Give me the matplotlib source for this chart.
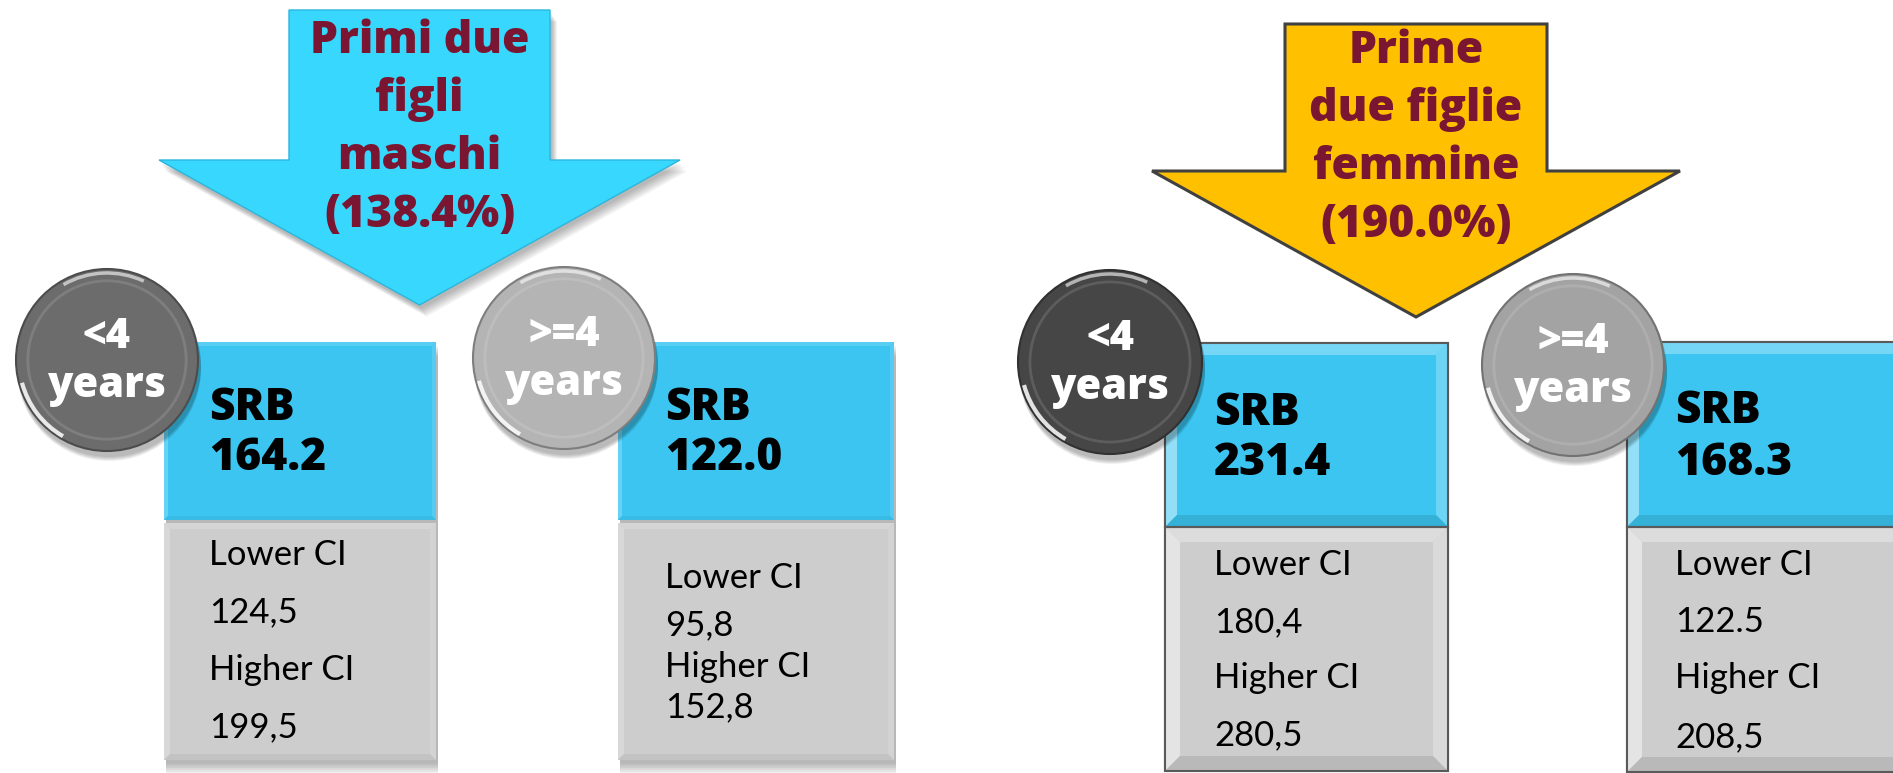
import numpy as np
import matplotlib.pyplot as plt
from matplotlib.patches import Polygon, Rectangle, Circle, Arc
from matplotlib.colors import to_rgb

# contents of the infographic
group_titles = [["Primi due", "figli", "maschi"], ["Prime", "due figlie", "femmine"]]
group_pct = ["138.4%", "190.0%"]
age_labels = ["<4", ">=4", "<4", ">=4"]
srb_values = ["164.2", "122.0", "231.4", "168.3"]
lower_ci = ["124,5", "95,8", "180,4", "122.5"]
higher_ci = ["199,5", "152,8", "280,5", "208,5"]

# layout (pixel coordinates, y downwards)
W, H = 1893, 773
arrows = [
    dict(l=289, r=550, top=10, wy=160, wl=159, wr=680, tip=305,
         face='#38D8FE', edge='#2AB6DC', lw=1.0, base=53, shadow=True),
    dict(l=1285, r=1547, top=24, wy=171, wl=1152, wr=1680, tip=317,
         face='#FFC000', edge='#404040', lw=2.2, base=63, shadow=False),
]
box_x = [(164, 436), (618, 894), (1165, 1448), (1627, 1910)]
box_y = [(342, 521, 760), (342, 521, 760), (343, 527, 771), (342, 527, 772)]
text_x = [209, 665, 1214, 1675]
srb_base = [(420, 470), (420, 470), (425, 475), (423, 475)]
ci_base = [(565, 622, 680, 737), (588, 635, 677, 717),
           (575, 632, 688, 745), (575, 632, 688, 747)]
circles = [(107, 360, 91, '#6c6c6c'), (564, 358, 91, '#b4b4b4'),
           (1110, 362, 92, '#464646'), (1573, 365, 91, '#a3a3a3')]
outlined = [False, False, True, True]

BLUE = '#3BC5F0'
GREY = '#CDCDCD'
MAROON = '#7A1631'
BOLD = 'Open Sans'
REG = 'Lato'
HEAVY = 800


def mix(color, f):
    c = np.array(to_rgb(color))
    if f >= 0:
        return tuple(c + (1 - c) * f)
    return tuple(c * (1 + f))


def bevel_box(ax, x0, x1, y0, y1, color, inset, outline, z, soft=False):
    ax.add_patch(Rectangle((x0, y0), x1 - x0, y1 - y0, fc=color,
                           ec=outline if outline else 'none', lw=1.5, zorder=z))
    i = inset
    k = 0.5 if soft else 1.0
    faces = [
        ([(x0, y0), (x1, y0), (x1 - i, y0 + i), (x0 + i, y0 + i)], mix(color, 0.3 * k)),
        ([(x0, y0), (x0 + i, y0 + i), (x0 + i, y1 - i), (x0, y1)], mix(color, 0.45 * k)),
        ([(x1, y0), (x1, y1), (x1 - i, y1 - i), (x1 - i, y0 + i)], mix(color, 0.25 * k)),
        ([(x0, y1), (x0 + i, y1 - i), (x1 - i, y1 - i), (x1, y1)], mix(color, -0.1 * k)),
    ]
    for pts, fc in faces:
        ax.add_patch(Polygon(pts, closed=True, fc=fc, ec='none', zorder=z + 0.1))
    if outline:
        ax.add_patch(Rectangle((x0, y0), x1 - x0, y1 - y0, fc='none',
                               ec=outline, lw=1.5, zorder=z + 0.2))


fig = plt.figure(figsize=(W / 100, H / 100), dpi=100)
ax = fig.add_axes([0, 0, 1, 1])
ax.set_xlim(0, W)
ax.set_ylim(H, 0)
ax.axis('off')

# arrows with their titles
for g, a in enumerate(arrows):
    cx = (a['l'] + a['r']) / 2
    pts = [(a['l'], a['top']), (a['r'], a['top']), (a['r'], a['wy']), (a['wr'], a['wy']),
           (cx, a['tip']), (a['wl'], a['wy']), (a['l'], a['wy'])]
    if a['shadow']:
        for k in range(6):
            sh = [(x + 2 + k, y + 4 + k * 1.5) for x, y in pts]
            ax.add_patch(Polygon(sh, closed=True, fc='k', ec='none', alpha=0.05, zorder=1))
    ax.add_patch(Polygon(pts, closed=True, fc=a['face'], ec=a['edge'], lw=a['lw'],
                         joinstyle='miter', zorder=2))
    lines = group_titles[g] + ['(' + group_pct[g] + ')']
    for k, line in enumerate(lines):
        ax.text(cx, a['base'] + k * 58, line, ha='center', va='baseline',
                fontsize=32, fontweight=HEAVY, family=BOLD, color=MAROON, zorder=3)

# boxes
for b in range(4):
    x0, x1 = box_x[b]
    top, mid, bot = box_y[b]
    if outlined[b]:
        bevel_box(ax, x0, x1, top, mid, BLUE, 12, '#5a5a5a', 4)
        bevel_box(ax, x0, x1, mid, bot, GREY, 15, '#5a5a5a', 4)
    else:
        for k in range(6):
            ax.add_patch(Rectangle((x0 + 2, top + 4 + k * 2), x1 - x0, bot - top,
                                   fc='k', ec='none', alpha=0.05, zorder=3))
        bevel_box(ax, x0, x1, top, mid - 1, BLUE, 4, None, 4, soft=True)
        bevel_box(ax, x0, x1, mid + 2, bot, GREY, 6, None, 4, soft=True)

    tx = text_x[b]
    ax.text(tx, srb_base[b][0], "SRB", ha='left', va='baseline', fontsize=32,
            fontweight=HEAVY, family=BOLD, color='black', zorder=6)
    ax.text(tx, srb_base[b][1], srb_values[b], ha='left', va='baseline', fontsize=32,
            fontweight=HEAVY, family=BOLD, color='black', zorder=6)
    for k, s in enumerate(["Lower CI", lower_ci[b], "Higher CI", higher_ci[b]]):
        ax.text(tx, ci_base[b][k], s, ha='left', va='baseline', fontsize=25,
                family=REG, color='black', zorder=6)

# glossy circles
for b, (cx, cy, r, col) in enumerate(circles):
    for k in range(5):
        ax.add_patch(Circle((cx + 2, cy + 5 + k), r + 1, fc='k', ec='none',
                            alpha=0.06, zorder=7))
    ax.add_patch(Circle((cx, cy), r, fc=col, ec=mix(col, -0.3), lw=1.5, zorder=8))
    ax.add_patch(Circle((cx, cy), r * 0.87, fc='none', ec=mix(col, 0.25), lw=2,
                        alpha=0.5, zorder=8.5))
    ax.add_patch(Arc((cx, cy), 2 * (r - 3), 2 * (r - 3), theta1=120, theta2=165,
                     ec='white', lw=3, alpha=0.85, zorder=9))
    ax.add_patch(Arc((cx, cy), 2 * (r - 4), 2 * (r - 4), theta1=240, theta2=295,
                     ec='white', lw=2.5, alpha=0.6, zorder=9))
    ax.text(cx, cy - 12, age_labels[b], ha='center', va='baseline', fontsize=30,
            fontweight=HEAVY, family=BOLD, color='white', zorder=10)
    ax.text(cx, cy + 37, "years", ha='center', va='baseline', fontsize=30,
            fontweight=HEAVY, family=BOLD, color='white', zorder=10)

fig.savefig('out.png', dpi=100, facecolor='white')
